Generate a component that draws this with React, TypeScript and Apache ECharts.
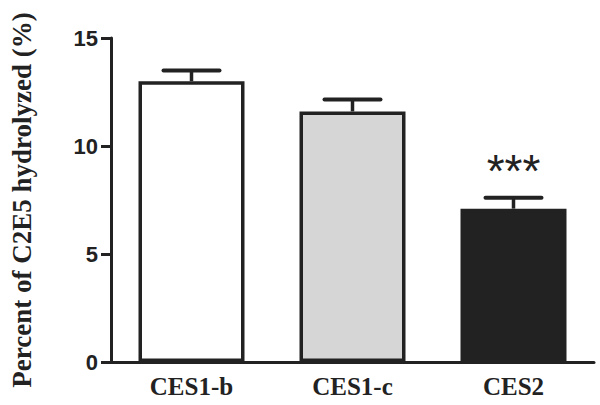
import React, { useEffect, useRef } from "react";
import * as echarts from "echarts";

const categories = ["CES1-b", "CES1-c", "CES2"];
const means = [13.0, 11.6, 7.1];
const upperErrors = [0.5, 0.55, 0.5];
const fillColors = ["#ffffff", "#d6d6d6", "#222222"];
const significance = ["", "", "***"];
const yTickLabels = [0, 5, 10, 15];

const INK = "#222222";

export default function App() {
  const ref = useRef<HTMLDivElement>(null);
  useEffect(() => {
    if (!ref.current) return;
    const chart = echarts.init(ref.current, undefined, { renderer: "svg" });
    const errData = categories.map((c, i) => [i, means[i], means[i] + upperErrors[i], significance[i]]);
    chart.setOption({
      animation: false,
      backgroundColor: "#ffffff",
      grid: { left: 111, right: 6, top: 38, bottom: 43, containLabel: false },
      xAxis: {
        type: "category",
        data: categories,
        boundaryGap: true,
        axisLine: { lineStyle: { color: INK, width: 3 } },
        axisTick: { alignWithLabel: true, length: 11, lineStyle: { color: INK, width: 3 } },
        axisLabel: {
          margin: 12,
          color: INK,
          fontFamily: "Liberation Serif",
          fontWeight: "bold",
          fontSize: 25,
        },
      },
      yAxis: {
        type: "value",
        min: yTickLabels[0],
        max: yTickLabels[yTickLabels.length - 1],
        interval: 5,
        name: "Percent of C2E5 hydrolyzed (%)",
        nameLocation: "middle",
        nameGap: 76,
        nameTextStyle: {
          color: INK,
          fontFamily: "Liberation Serif",
          fontWeight: "bold",
          fontSize: 27,
        },
        splitLine: { show: false },
        axisLine: { show: true, lineStyle: { color: INK, width: 3 } },
        axisTick: { show: true, length: 10, lineStyle: { color: INK, width: 3 } },
        axisLabel: {
          margin: 13,
          color: INK,
          fontFamily: "Liberation Sans",
          fontWeight: "bold",
          fontSize: 22,
        },
      },
      series: [
        {
          type: "bar",
          barWidth: 106,
          data: means.map((v, i) => ({
            value: v,
            itemStyle: { color: fillColors[i], borderColor: INK, borderWidth: 3.5 },
          })),
          z: 2,
        },
        {
          type: "custom",
          data: errData,
          z: 3,
          renderItem: (params: any, api: any) => {
            const i = api.value(0);
            const top = api.coord([i, api.value(1)]);
            const cap = api.coord([i, api.value(2)]);
            const sig = significance[params.dataIndex];
            const half = 28;
            const children: any[] = [
              {
                type: "line",
                shape: { x1: top[0], y1: top[1], x2: cap[0], y2: cap[1] },
                style: { stroke: INK, lineWidth: 3.5 },
              },
              {
                type: "line",
                shape: { x1: cap[0] - half, y1: cap[1], x2: cap[0] + half, y2: cap[1] },
                style: { stroke: INK, lineWidth: 4, lineCap: "round" },
              },
            ];
            if (sig) {
              children.push({
                type: "text",
                x: cap[0],
                y: cap[1] - 27,
                style: {
                  text: sig,
                  fill: INK,
                  fontFamily: "Liberation Sans",
                  fontSize: 46,
                  align: "center",
                  verticalAlign: "middle",
                },
              });
            }
            return { type: "group", children };
          },
        },
      ],
    });
    return () => chart.dispose();
  }, []);
  return <div ref={ref} style={{ width: 600, height: 405, position: "absolute", left: 0, top: 0 }} />;
}
